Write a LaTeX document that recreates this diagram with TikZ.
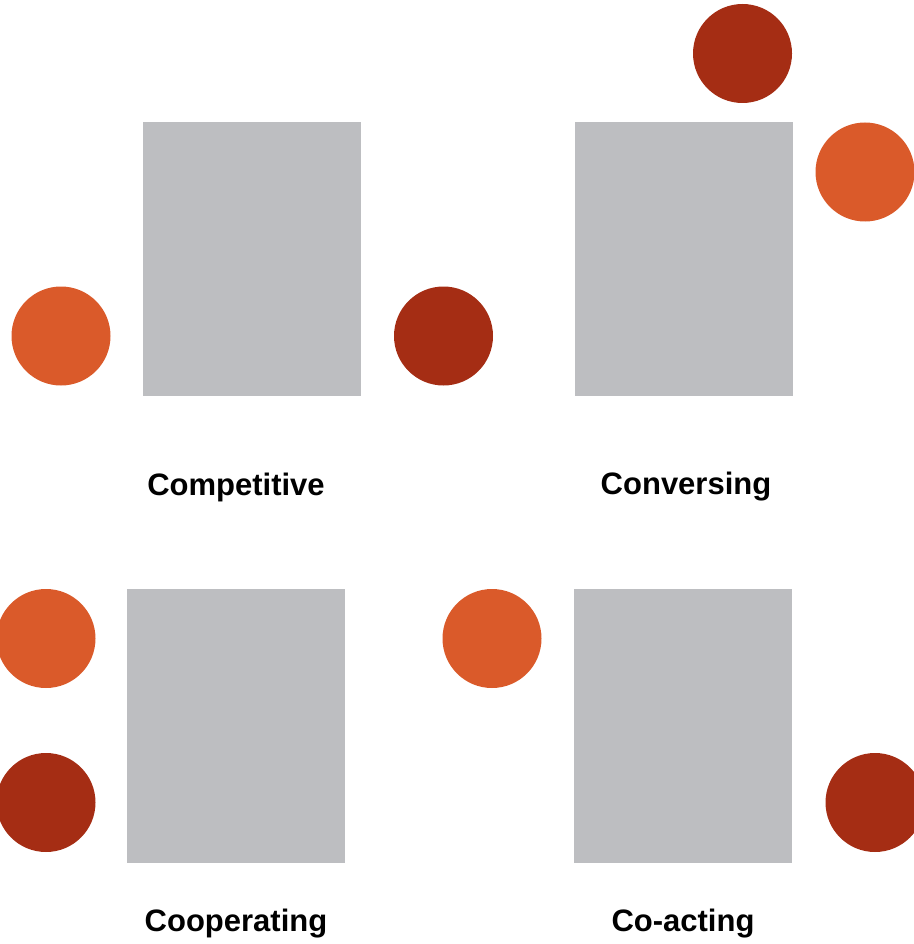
\documentclass[tikz,border=0pt]{standalone}
\usepackage{fontspec}
\setmainfont{Liberation Sans}
\definecolor{seatA}{HTML}{DA5A2A}
\definecolor{seatB}{HTML}{A52D14}
\definecolor{tablegray}{HTML}{BDBEC1}
\begin{document}
\begin{tikzpicture}[x=1pt,y=-1pt,
  tablebox/.style={fill=tablegray,draw=none,minimum width=218pt,minimum height=274pt,inner sep=0pt,outer sep=0pt},
  seatlight/.style={circle,fill=seatA,draw=none,minimum size=99pt,inner sep=0pt},
  seatdark/.style={circle,fill=seatB,draw=none,minimum size=99pt,inner sep=0pt},
  caption/.style={font=\fontsize{31}{36}\selectfont\bfseries,inner sep=0pt}]
\useasboundingbox (0,0) rectangle (913,944);
% Competitive
\node[tablebox] (t1) at (252,259) {};
\node[seatlight] (c1a) at (61,336) {};
\node[seatdark] (c1b) at (443.5,336) {};
\node[caption] (l1) at (236,487) {Competitive};
% Conversing
\node[tablebox] (t2) at (684,259) {};
\node[seatdark] (c2b) at (742.5,53.5) {};
\node[seatlight] (c2a) at (865,172) {};
\node[caption] (l2) at (686,487) {Conversing};
% Cooperating
\node[tablebox] (t3) at (236,725.5) {};
\node[seatlight] (c3a) at (46,638.5) {};
\node[seatdark] (c3b) at (46,802.5) {};
\node[caption] (l3) at (236,924) {Cooperating};
% Co-acting
\node[tablebox] (t4) at (683,725.5) {};
\node[seatlight] (c4a) at (492,638.5) {};
\node[seatdark] (c4b) at (875,802.5) {};
\node[caption] (l4) at (683,924) {Co-acting};
\end{tikzpicture}
\end{document}
